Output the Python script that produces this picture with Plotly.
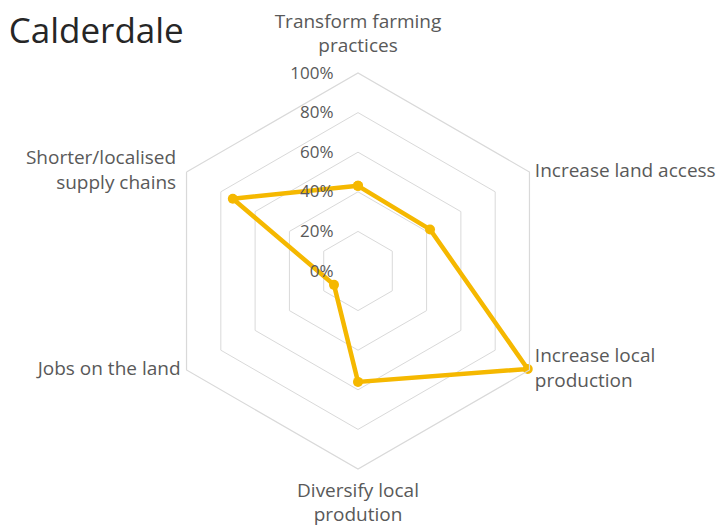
import plotly.graph_objects as go

# Share of respondents prioritising each food-system action in Calderdale
categories = [
    "Transform farming practices",
    "Increase land access",
    "Increase local production",
    "Diversify local prodution",
    "Jobs on the land",
    "Shorter/localised supply chains",
]
category_labels = [
    "Transform farming<br>practices",
    "Increase land access",
    "Increase local<br>production",
    "Diversify local<br>prodution",
    "Jobs on the land",
    "Shorter/localised<br>supply chains",
]
values = [0.43, 0.42, 0.99, 0.56, 0.14, 0.73]
radial_ticks = [0, 0.2, 0.4, 0.6, 0.8, 1.0]

GOLD = "#F5B800"
GRID = "#D9D9D9"
TEXT = "#595959"

# Category names on the outer ring; invisible spacer markers set the gap
# between each vertex and its label (drawn first so the data sits on top)
label_pos = ["top center", "middle right", "middle right",
             "bottom center", "middle left", "middle left"]
label_gap = [24, 7, 7, 20, 8, 15]

fig = go.Figure()
fig.add_trace(go.Scatterpolar(
    r=[radial_ticks[-1]] * len(categories),
    theta=categories,
    mode="markers+text",
    text=category_labels,
    textposition=label_pos,
    textfont=dict(family="Open Sans", size=19, color=TEXT),
    marker=dict(size=label_gap, color="rgba(0,0,0,0)", opacity=0,
                line=dict(width=0)),
    cliponaxis=False,
    showlegend=False,
    hoverinfo="skip",
))
fig.add_trace(go.Scatterpolar(
    r=values + values[:1],
    theta=categories + categories[:1],
    mode="lines+markers",
    line=dict(color=GOLD, width=4.5),
    marker=dict(color=GOLD, size=10),
    cliponaxis=False,
    showlegend=False,
    hoverinfo="skip",
))

W, H = 725, 530
cx, cy, rad = 358, 271, 198

fig.update_layout(
    width=W, height=H,
    margin=dict(l=0, r=0, t=0, b=0),
    paper_bgcolor="white",
    plot_bgcolor="white",
    font=dict(family="Open Sans", color=TEXT),
    title=dict(
        text="Calderdale",
        x=0.012, xanchor="left",
        y=0.966, yanchor="top",
        font=dict(family="Open Sans", size=35, color="#262626"),
    ),
    polar=dict(
        domain=dict(
            x=[(cx - rad) / W, (cx + rad) / W],
            y=[(H - cy - rad) / H, (H - cy + rad) / H],
        ),
        gridshape="linear",
        bgcolor="white",
        radialaxis=dict(
            range=[0, 1],
            tickvals=radial_ticks,
            tickformat=".0%",
            angle=90,
            tickangle=90,
            side="counterclockwise",
            showline=False,
            ticks="outside",
            ticklen=18,
            tickcolor="rgba(0,0,0,0)",
            gridcolor=GRID,
            gridwidth=1.2,
            tickfont=dict(size=17, color=TEXT),
        ),
        angularaxis=dict(
            direction="clockwise",
            rotation=90,
            showgrid=False,
            showline=True,
            linecolor=GRID,
            linewidth=1.2,
            ticks="",
            showticklabels=False,
        ),
    ),
)

fig.write_html("out.html")
